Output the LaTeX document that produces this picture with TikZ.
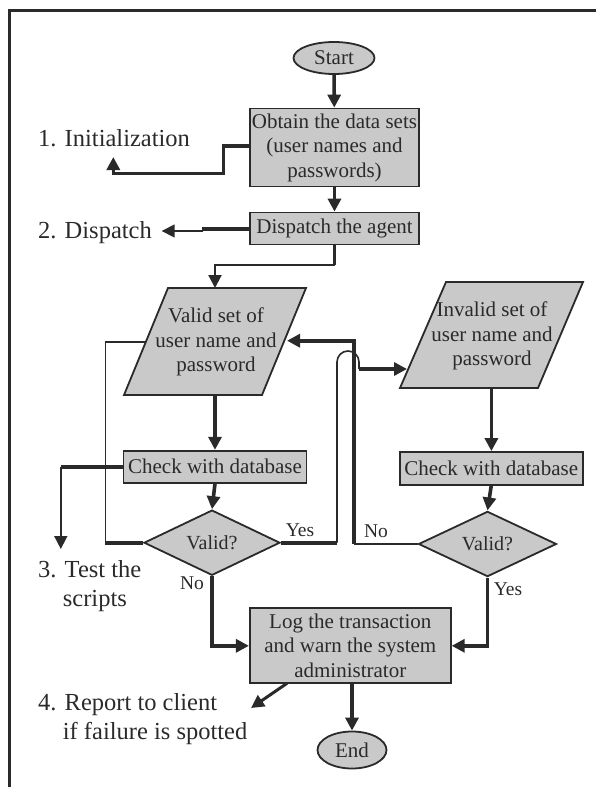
\documentclass[tikz,border=0pt]{standalone}
\usepackage{fontspec}
\setmainfont{Liberation Serif}
\usetikzlibrary{shapes.geometric,arrows.meta}

\definecolor{inkC}{HTML}{2A2A2A}
\definecolor{fillC}{HTML}{C9C9C9}

\newcommand\bxfont{\fontsize{21}{24.5}\selectfont}
\newcommand\stfont{\fontsize{24.5}{28.3}\selectfont}
\newcommand\brfont{\fontsize{19.5}{22}\selectfont}

\tikzset{
  procbox/.style={rectangle, draw=inkC, line width=1.8pt, fill=fillC,
    inner sep=0pt, align=center, font=\bxfont, text=inkC},
  terminal/.style={ellipse, draw=inkC, line width=1.8pt, fill=fillC,
    inner sep=0pt, font=\bxfont, text=inkC},
  decision/.style={diamond, draw=inkC, line width=1.8pt, fill=fillC,
    inner sep=0pt, font=\fontsize{20}{22}\selectfont, text=inkC},
  ioshape/.style={draw=inkC, line width=1.8pt, fill=fillC},
  iotext/.style={inner sep=0pt, align=center, font=\bxfont, text=inkC},
  heavy/.style={draw=inkC, line width=3.6pt},
  medium/.style={draw=inkC, line width=2.2pt},
  light/.style={draw=inkC, line width=1.6pt},
  tip/.style={-{Triangle[length=13pt,width=13pt]}},
  steplabel/.style={anchor=west, align=left, inner sep=0pt, font=\stfont, text=inkC},
  branchlabel/.style={inner sep=0pt, font=\brfont, text=inkC},
}

\begin{document}
\begin{tikzpicture}[x=1pt,y=-1pt]
\useasboundingbox (0,0) rectangle (596,787);

% frame
\draw[draw=inkC, line width=2.2pt] (9.5,787) -- (9.5,10.5) -- (596,10.5);

% terminals and process boxes
\node[terminal, minimum width=81pt, minimum height=32pt] (start) at (334,58) {Start};
\node[procbox, minimum width=169pt, minimum height=78pt] (obtain) at (334.5,147.5)
  {Obtain the data sets\\(user names and\\passwords)};
\node[procbox, minimum width=169pt, minimum height=32pt] (dispatch) at (334.5,228.5)
  {Dispatch the agent};

% input/output parallelograms
\draw[ioshape] (168,288) -- (306,288) -- (262,395) -- (124,395) -- cycle;
\node[iotext] (valid) at (216,342) {Valid set of\\user name and\\password};
\coordinate (validN) at (215,288);
\coordinate (validS) at (215,395);
\coordinate (validW) at (145.9,341.7);
\coordinate (validE) at (287,340.7);

\draw[ioshape] (446,282) -- (583,282) -- (538,388) -- (400,388) -- cycle;
\node[iotext] (invalid) at (492,336) {Invalid set of\\user name and\\password};
\coordinate (invalidS) at (491.4,388);
\coordinate (invalidW) at (407,369);

\node[procbox, minimum width=183pt, minimum height=32pt] (checkL) at (215,466.7)
  {Check with database};
\node[procbox, minimum width=183pt, minimum height=33pt] (checkR) at (491.2,468.5)
  {Check with database};

\node[decision, minimum width=136pt, minimum height=55pt] (diaL) at (212,542.7) {Valid?};
\node[decision, minimum width=138pt, minimum height=56pt] (diaR) at (487.5,544) {Valid?};

\node[procbox, minimum width=201pt, minimum height=75pt] (log) at (350.3,645.8)
  {Log the transaction\\and warn the system\\administrator};
\node[terminal, minimum width=69pt, minimum height=37pt] (end) at (352,750) {End};

% step labels
\node[steplabel] (s1) at (38,138.3) {1. Initialization};
\node[steplabel] (s2) at (38,233) {2. Dispatch};
\node[steplabel] (s3) at (38,586) {3. Test the\\\hspace*{24.7pt}scripts};
\node[steplabel] (s4) at (38,719) {4. Report to client\\\hspace*{24.7pt}if failure is spotted};

% branch labels
\node[branchlabel] (yesL) at (300,530) {Yes};
\node[branchlabel] (noM) at (376,531.7) {No};
\node[branchlabel] (noL) at (192,583.3) {No};
\node[branchlabel] (yesR) at (508,589) {Yes};

% main flow
\draw[heavy, tip] (start) -- (obtain);
\draw[heavy, tip] (obtain) -- (dispatch);
\draw[heavy] (dispatch.south) -- (334.5,265);
\draw[medium, tip] (334.5,265) -- (215,265) -- (validN);
\draw[heavy, tip] (validS) -- (checkL.north);
\draw[heavy, tip] (invalidS) -- (invalidS |- checkR.north);
\draw[heavy, tip] (checkL.south) -- (diaL.north);
\draw[heavy, tip] (checkR.south) -- (diaR.north);
\draw[heavy, tip] (diaL.south) |- (log.west);
\draw[heavy, tip] (diaR.south) |- (log.east);
\draw[heavy, tip] (log.south -| end.north) -- (end.north);

% step pointers
\coordinate (initTip) at (113.3,157);
\draw[heavy, tip] (obtain.west |- 0,146) -- (223.3,146) -- (223.3,173.3)
  -- (113.3,173.3) -- (initTip);
\coordinate (dispBend) at (203.3,229);
\coordinate (dispTip) at (161.7,231);
\draw[heavy] (dispatch.west |- dispBend) -- (dispBend) -- (203.3,231);
\draw[light, tip] (203.3,231) -- (dispTip);
\coordinate (testBend) at (60.8,466.7);
\coordinate (testTip) at (60.8,549);
\draw[heavy] (checkL.west) -- (testBend);
\draw[light, tip] (testBend) -- (testTip);
\coordinate (reportFrom) at (287,683.3);
\coordinate (reportTip) at (251,708);
\draw[heavy, line width=3pt, tip] (reportFrom) -- (reportTip);

% loop back from the left decision
\draw[heavy] (diaL.west) -- (105.3,542.7);
\draw[light] (105.3,542.7) -- (105.3,341.7) -- (validW);

% Yes: on to the invalid set, hopping over the No line
\draw[heavy] (diaL.east) -- (337,542.7);
\draw[light] (337,542.7) -- (337,362) arc[start angle=180, end angle=0, radius=11pt]
  -- (359,369);
\draw[heavy, tip] (359,369) -- (invalidW);

% No: back to the valid set
\draw[light] (diaR.west) -- (354,544);
\draw[heavy, tip] (354,544) -- (354,340.7) -- (validE);

\end{tikzpicture}
\end{document}
